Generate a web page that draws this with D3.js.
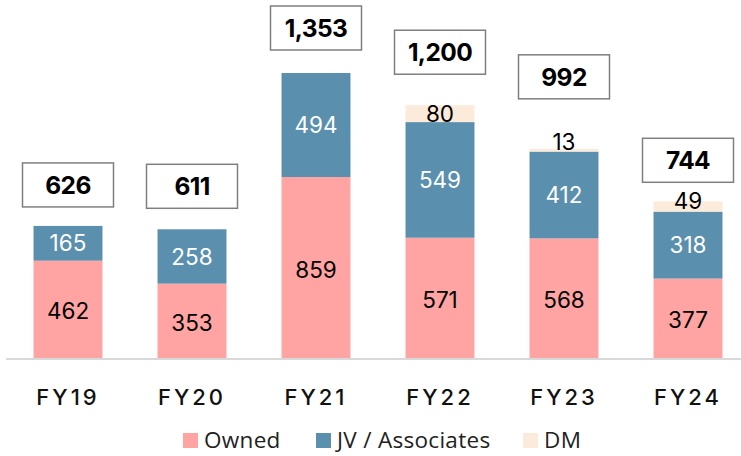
<!DOCTYPE html>
<html><head><meta charset="utf-8">
<script src="https://cdn.jsdelivr.net/npm/d3@7"></script>
<style>html,body{margin:0;padding:0;background:#fff;}svg{display:block;}</style>
</head><body>
<svg id="chart" width="741" height="456"></svg>
<script>
const categories = ["FY19","FY20","FY21","FY22","FY23","FY24"];
const owned = [462,353,859,571,568,377];
const jv = [165,258,494,549,412,318];
const dm = [0,0,0,80,13,49];
const totals = ["626","611","1,353","1,200","992","744"];
const seriesNames = ["Owned","JV / Associates","DM"];
const colors = ["#FFA3A3","#5B8FAE","#FCEBDA"];
const labelColors = ["#000","#fff","#000"];

const svg = d3.select("#chart");
const W = 741, H = 456;
const x = d3.scaleBand().domain(categories).range([6,750]).paddingInner(0.444).paddingOuter(0.222);
const y = d3.scaleLinear().domain([0,1353]).range([358,73]);

const rows = categories.map((c,i)=>({cat:c, Owned:owned[i], "JV / Associates":jv[i], DM:dm[i]}));
const stack = d3.stack().keys(seriesNames)(rows);

// baseline
svg.append("line").attr("x1",6).attr("x2",W).attr("y1",y(0)+1).attr("y2",y(0)+1)
  .attr("stroke","#d9d9d9").attr("stroke-width",2);

stack.forEach((s,si)=>{
  const g = svg.append("g");
  g.selectAll("rect").data(s.filter(d=>d[1]-d[0]>0)).join("rect")
    .attr("x",d=>x(d.data.cat)).attr("width",x.bandwidth())
    .attr("y",d=>y(d[1])).attr("height",d=>y(d[0])-y(d[1]))
    .attr("fill",colors[si]);
});
stack.forEach((s,si)=>{
  svg.append("g").selectAll("text").data(s.filter(d=>d[1]-d[0]>0)).join("text")
    .attr("x",d=>x(d.data.cat)+x.bandwidth()/2)
    .attr("y",d=>{
      const top=y(d[1]), h=y(d[0])-y(d[1]);
      let cy;
      if(h<5) cy = top-7; else if(h<15) cy = top+h/2-6; else cy = top+h/2+(si===0?2:0);
      return cy;
    })
    .attr("dy","0.36em")
    .attr("text-anchor","middle")
    .attr("font-family","Inter, 'Noto Sans', sans-serif")
    .attr("font-size",22.5)
    .attr("fill",labelColors[si])
    .text(d=>d[1]-d[0]);
});

// total boxes
const boxLift = [19,21,23,31,50,19];
const bw = 91, bh = 44;
const tg = svg.append("g");
categories.forEach((c,i)=>{
  const cx = x(c)+x.bandwidth()/2;
  const tot = owned[i]+jv[i]+dm[i];
  const bottom = y(tot)-boxLift[i];
  tg.append("rect").attr("x",cx-bw/2).attr("y",bottom-bh).attr("width",bw).attr("height",bh)
    .attr("fill","#fff").attr("stroke","#7f7f7f").attr("stroke-width",1.5);
  tg.append("text").attr("x",cx).attr("y",bottom-bh/2).attr("dy","0.36em")
    .attr("text-anchor","middle").attr("font-family","Inter, sans-serif")
    .attr("font-weight",700).attr("font-size",24.5).attr("letter-spacing","-0.6px")
    .attr("fill","#000").text(totals[i]);
});

// x-axis labels
const xAxis = d3.axisBottom(x).tickSize(0).tickPadding(0);
const ax = svg.append("g").attr("transform",`translate(0,${y(0)})`).call(xAxis);
ax.select(".domain").remove();
ax.selectAll("text").attr("y",47).attr("dy",0)
  .attr("font-family","Inter, sans-serif").attr("font-size",22).attr("font-weight",500)
  .attr("letter-spacing","3px").attr("fill","#111");

// legend
const legX = [183,316,523];
const lg = svg.append("g");
seriesNames.forEach((n,i)=>{
  lg.append("rect").attr("x",legX[i]).attr("y",433).attr("width",15).attr("height",15).attr("fill",colors[i]);
  lg.append("text").attr("x",legX[i]+21).attr("y",440).attr("dy","0.36em")
    .attr("font-family","'Open Sans', sans-serif").attr("font-size",22.5).attr("letter-spacing","0.3px")
    .attr("fill","#222").text(n);
});
</script>
</body></html>
